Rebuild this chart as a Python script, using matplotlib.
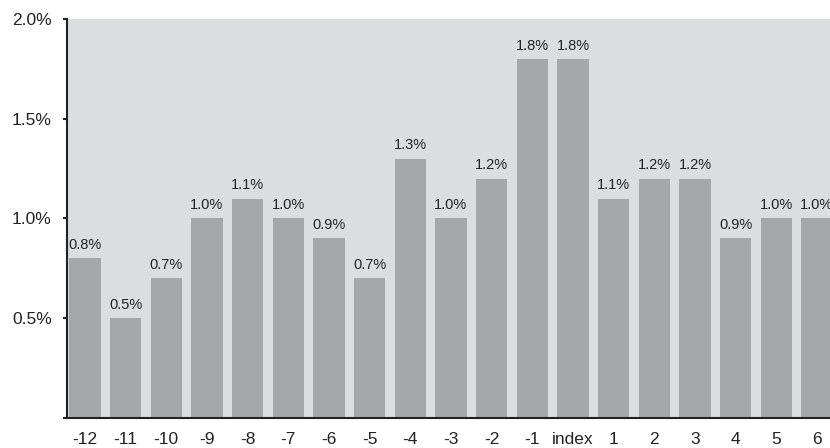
import numpy as np
import matplotlib
matplotlib.use("Agg")
import matplotlib.pyplot as plt
from matplotlib.ticker import FuncFormatter

plt.rcParams['font.family'] = ['Liberation Sans', 'DejaVu Sans']

# data
labels = ['-12', '-11', '-10', '-9', '-8', '-7', '-6', '-5', '-4', '-3', '-2', '-1',
          'index', '1', '2', '3', '4', '5', '6']
values = [0.8, 0.5, 0.7, 1.0, 1.1, 1.0, 0.9, 0.7, 1.3, 1.0, 1.2, 1.8,
          1.8, 1.1, 1.2, 1.2, 0.9, 1.0, 1.0]
y_ticks = [0.5, 1.0, 1.5, 2.0]

fig = plt.figure(figsize=(8.3, 4.48), dpi=100)
ax = fig.add_axes([0.0807, 0.067, 0.9193, 0.8906])
ax.set_facecolor('#dcdde0')

x = np.arange(len(labels))
bars = ax.bar(x, values, width=0.77, color='#a6a7aa', zorder=2)

for xi, v in zip(x, values):
    ax.annotate(f'{v:.1f}%', (xi, v), xytext=(0, 4.5), textcoords='offset points',
                ha='center', va='bottom', fontsize=10.5, color='#222222')

ax.set_xlim(-0.44, 18.32)
ax.set_ylim(0, 2.0)
ax.set_xticks(x)
ax.set_xticklabels(labels)
ax.set_yticks([0] + y_ticks)
ax.yaxis.set_major_formatter(FuncFormatter(lambda v, p: '' if v == 0 else f'{v:.1f}%'))

for s in ['top', 'right']:
    ax.spines[s].set_visible(False)
ax.spines['left'].set_linewidth(1.5)
ax.spines['bottom'].set_linewidth(1.5)
ax.spines['left'].set_color('#222222')
ax.spines['bottom'].set_color('#222222')

ax.tick_params(axis='x', length=0, pad=10, labelsize=12.5, colors='#222222')
ax.tick_params(axis='y', length=3, width=1.5, pad=8, labelsize=12.5, colors='#222222')

fig.savefig('out.png', dpi=100)
